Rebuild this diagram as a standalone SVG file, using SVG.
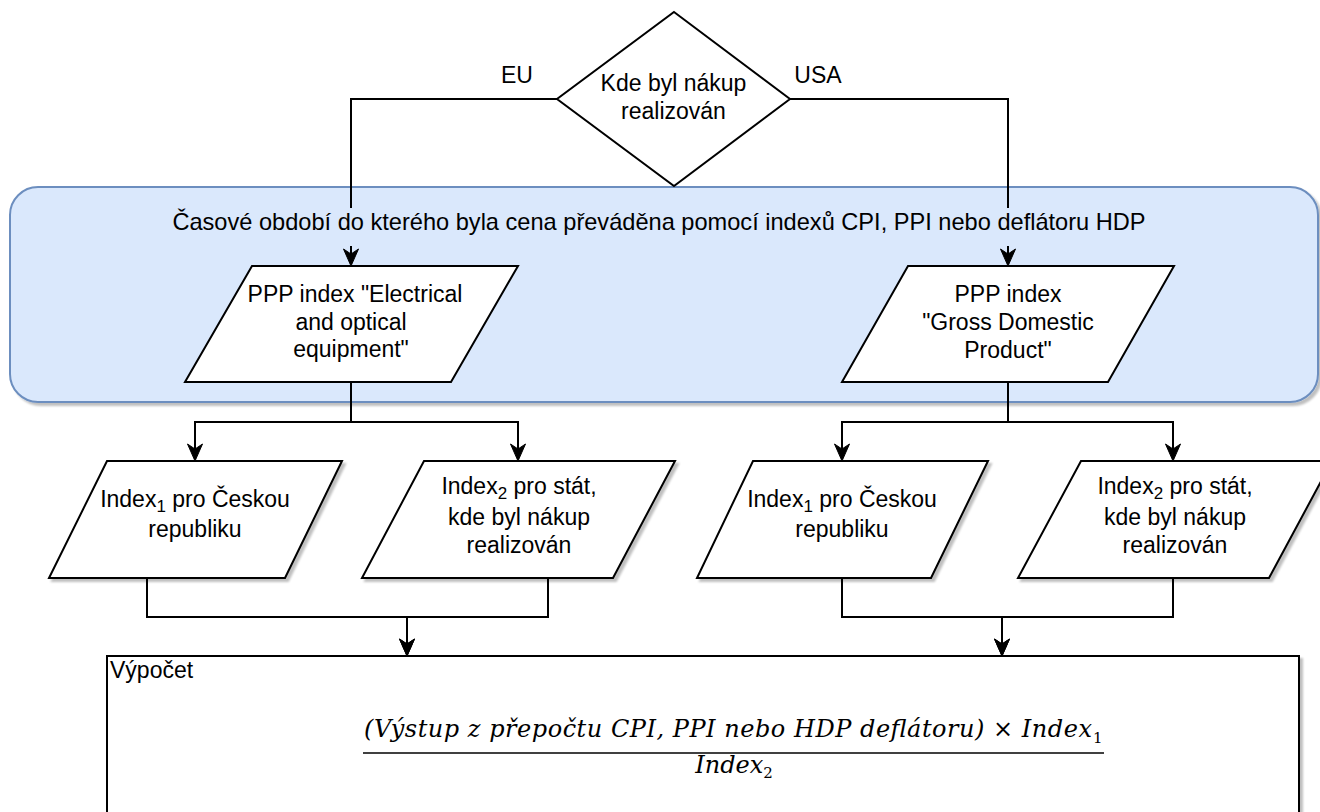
<svg xmlns="http://www.w3.org/2000/svg" width="1320" height="812" viewBox="0 0 1320 812">
  <style>
    .shape { fill: #ffffff; stroke: #000000; stroke-width: 2; }
    .group { fill: #dae8fc; stroke: #6c8ebf; stroke-width: 2; }
    .edge { fill: none; stroke: #000000; stroke-width: 2; }
    .lbl { font-family: "Liberation Sans", Arial, sans-serif; font-size: 23px; fill: #000000; text-anchor: middle; }
    .sub { font-size: 17px; }
    .math { font-family: "DejaVu Serif", "Liberation Serif", serif; font-style: italic; font-size: 24px; fill: #000000; }
    .mathsub { font-family: "DejaVu Serif", "Liberation Serif", serif; font-size: 15px; fill: #000000; }
  </style>
  <defs>
    <filter id="drop" x="-5%" y="-5%" width="115%" height="130%">
      <feGaussianBlur in="SourceAlpha" stdDeviation="1.2"/>
      <feOffset dx="3" dy="3" result="off"/>
      <feComponentTransfer><feFuncA type="linear" slope="0.25"/></feComponentTransfer>
      <feMerge><feMergeNode/><feMergeNode in="SourceGraphic"/></feMerge>
    </filter>
    <marker id="arrow" markerUnits="userSpaceOnUse" markerWidth="20" markerHeight="20" orient="auto" refX="0" refY="0" overflow="visible">
      <path d="M12,0 L-5,-7.5 L0,0 L-5,7.5 Z" fill="#000000" stroke="#000000" stroke-width="1"/>
    </marker>
  </defs>

  <rect width="1320" height="812" fill="#ffffff"/>

  <!-- period container -->
  <g id="period">
    <rect class="group" x="10" y="187" width="1308" height="215" rx="28" ry="28" filter="url(#drop)"/>
  </g>

  <!-- decision -->
  <g id="decision">
    <polygon class="shape" points="674,12 790,99 674,186 557,99"/>
    <text class="lbl" x="673.5" y="91">Kde byl nákup</text>
    <text class="lbl" x="673.5" y="119">realizován</text>
  </g>

  <!-- connectors -->
  <g id="connectors">
    <path class="edge" d="M557,99 H351 V254" marker-end="url(#arrow)"/>
    <path class="edge" d="M790,99 H1008 V254" marker-end="url(#arrow)"/>
    <path class="edge" d="M351,382 V422 H195 V449" marker-end="url(#arrow)"/>
    <path class="edge" d="M351,382 V422 H518 V449" marker-end="url(#arrow)"/>
    <path class="edge" d="M1008,382 V422 H842 V449" marker-end="url(#arrow)"/>
    <path class="edge" d="M1008,382 V422 H1173 V449" marker-end="url(#arrow)"/>
    <path class="edge" d="M147,578 V617 H407 V644" marker-end="url(#arrow)"/>
    <path class="edge" d="M548,578 V617 H407 V644" marker-end="url(#arrow)"/>
    <path class="edge" d="M842,578 V617 H1002 V644" marker-end="url(#arrow)"/>
    <path class="edge" d="M1173,578 V617 H1002 V644" marker-end="url(#arrow)"/>
    <text class="lbl" x="517" y="83">EU</text>
    <text class="lbl" x="818" y="83">USA</text>
  </g>

  <!-- container caption, drawn over the connectors -->
  <g id="period-label">
    <rect x="165" y="208" width="990" height="38" fill="#dae8fc"/>
    <text class="lbl" x="659" y="230" style="font-size:23.6px">Časové období do kterého byla cena převáděna pomocí indexů CPI, PPI nebo deflátoru HDP</text>
  </g>

  <!-- PPP index inputs -->
  <g id="ppp-eu">
    <polygon class="shape" points="252,266 518,266 451,382 185,382"/>
    <text class="lbl" x="355" y="302">PPP index "Electrical</text>
    <text class="lbl" x="351" y="330">and optical</text>
    <text class="lbl" x="351" y="357">equipment"</text>
  </g>
  <g id="ppp-usa">
    <polygon class="shape" points="908,266 1174,266 1108,382 842,382"/>
    <text class="lbl" x="1008" y="302">PPP index</text>
    <text class="lbl" x="1008" y="330">"Gross Domestic</text>
    <text class="lbl" x="1008" y="358">Product"</text>
  </g>

  <!-- index inputs, EU branch -->
  <g id="eu-index1">
    <polygon class="shape" points="107,461 342,461 285,578 49,578" filter="url(#drop)"/>
    <text class="lbl" x="195" y="507">Index<tspan class="sub" dy="5">1</tspan><tspan dy="-5"> pro Českou</tspan></text>
    <text class="lbl" x="195" y="537">republiku</text>
  </g>
  <g id="eu-index2">
    <polygon class="shape" points="424,461 675,461 613,578 362,578" filter="url(#drop)"/>
    <text class="lbl" x="519" y="494">Index<tspan class="sub" dy="5">2</tspan><tspan dy="-5"> pro stát,</tspan></text>
    <text class="lbl" x="519" y="525">kde byl nákup</text>
    <text class="lbl" x="519" y="553">realizován</text>
  </g>

  <!-- index inputs, USA branch -->
  <g id="usa-index1">
    <polygon class="shape" points="753,461 988,461 931,578 697,578" filter="url(#drop)"/>
    <text class="lbl" x="842" y="507">Index<tspan class="sub" dy="5">1</tspan><tspan dy="-5"> pro Českou</tspan></text>
    <text class="lbl" x="842" y="537">republiku</text>
  </g>
  <g id="usa-index2">
    <polygon class="shape" points="1081,461 1332,461 1269,578 1018,578" filter="url(#drop)"/>
    <text class="lbl" x="1175" y="494">Index<tspan class="sub" dy="5">2</tspan><tspan dy="-5"> pro stát,</tspan></text>
    <text class="lbl" x="1175" y="525">kde byl nákup</text>
    <text class="lbl" x="1175" y="553">realizován</text>
  </g>

  <!-- calculation -->
  <g id="calculation">
    <rect class="shape" x="107" y="656" width="1192" height="200" filter="url(#drop)"/>
    <text class="lbl" x="110" y="678" style="text-anchor:start">Výpočet</text>
    <text class="math" x="364" y="737" textLength="728" lengthAdjust="spacing">(Výstup z přepočtu CPI, PPI nebo HDP deflátoru) <tspan font-style="normal">×</tspan> Index</text>
    <text class="mathsub" x="1093" y="743">1</text>
    <line x1="363" y1="753" x2="1104" y2="753" stroke="#000000" stroke-width="1.6"/>
    <text class="math" x="734" y="773" text-anchor="middle">Index<tspan class="mathsub" font-style="normal" dy="5">2</tspan></text>
  </g>
</svg>
